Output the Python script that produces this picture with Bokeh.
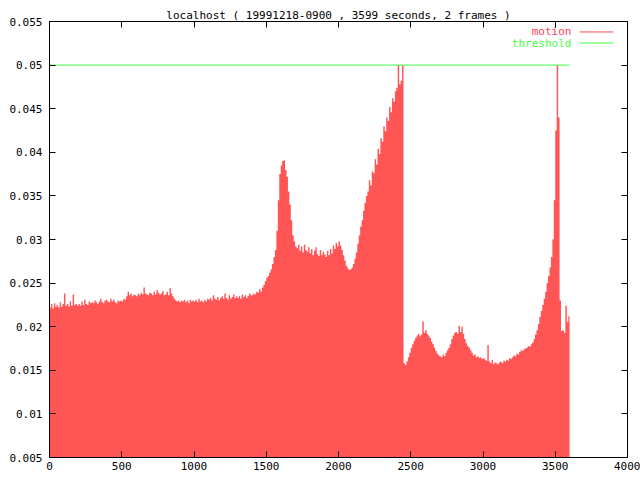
import numpy as np
from bokeh.plotting import figure
from bokeh.models import FixedTicker, LinearAxis, Range1d
from bokeh.core.properties import value
from bokeh.embed import file_html
from bokeh.resources import INLINE

# ---- data (motion level per 10-second bin) ----
step_seconds = 10
motion = [
    0.0222, 0.0226, 0.0221, 0.0227, 0.0223, 0.0225, 0.0222, 0.0228, 0.0223, 0.0226,
    0.0238, 0.0224, 0.0226, 0.0223, 0.0229, 0.0224, 0.0237, 0.0225, 0.0226, 0.0224,
    0.0226, 0.0224, 0.0229, 0.0225, 0.0231, 0.0226, 0.0225, 0.0229, 0.0227, 0.0228,
    0.0227, 0.0230, 0.0228, 0.0226, 0.0229, 0.0232, 0.0228, 0.0227, 0.0230, 0.0231,
    0.0229, 0.0228, 0.0232, 0.0229, 0.0231, 0.0228, 0.0227, 0.0230, 0.0229, 0.0230,
    0.0229, 0.0232, 0.0231, 0.0235, 0.0240, 0.0236, 0.0238, 0.0235, 0.0237, 0.0236,
    0.0235, 0.0238, 0.0236, 0.0239, 0.0237, 0.0245, 0.0238, 0.0237, 0.0236, 0.0239,
    0.0238, 0.0236, 0.0240, 0.0237, 0.0242, 0.0239, 0.0237, 0.0238, 0.0241, 0.0236,
    0.0237, 0.0240, 0.0236, 0.0244, 0.0238, 0.0235, 0.0232, 0.0230, 0.0229, 0.0230,
    0.0228, 0.0230, 0.0229, 0.0231, 0.0228, 0.0230, 0.0227, 0.0231, 0.0229, 0.0230,
    0.0229, 0.0231, 0.0228, 0.0232, 0.0229, 0.0230, 0.0228, 0.0231, 0.0229, 0.0232,
    0.0231, 0.0233, 0.0230, 0.0236, 0.0232, 0.0231, 0.0234, 0.0230, 0.0233, 0.0235,
    0.0232, 0.0238, 0.0233, 0.0231, 0.0236, 0.0232, 0.0234, 0.0237, 0.0233, 0.0235,
    0.0233, 0.0235, 0.0232, 0.0237, 0.0234, 0.0236, 0.0233, 0.0235, 0.0238, 0.0236,
    0.0236, 0.0238, 0.0237, 0.0240, 0.0239, 0.0243, 0.0240, 0.0245, 0.0248, 0.0252,
    0.0256, 0.0258, 0.0262, 0.0266, 0.0272, 0.0280, 0.0288, 0.0310, 0.0345, 0.0375,
    0.0385, 0.0390, 0.0391, 0.0380, 0.0372, 0.0355, 0.0340, 0.0322, 0.0305, 0.0298,
    0.0292, 0.0290, 0.0294, 0.0287, 0.0292, 0.0285, 0.0294, 0.0288, 0.0286, 0.0291,
    0.0284, 0.0289, 0.0282, 0.0287, 0.0291, 0.0283, 0.0281, 0.0288, 0.0282, 0.0286,
    0.0283, 0.0280, 0.0287, 0.0282, 0.0289, 0.0284, 0.0293, 0.0289, 0.0296, 0.0292,
    0.0298, 0.0293, 0.0288, 0.0282, 0.0276, 0.0270, 0.0267, 0.0265, 0.0266, 0.0268,
    0.0272, 0.0278, 0.0285, 0.0295, 0.0305, 0.0315, 0.0322, 0.0333, 0.0342, 0.0350,
    0.0355, 0.0368, 0.0362, 0.0378, 0.0376, 0.0392, 0.0386, 0.0404, 0.0398, 0.0416,
    0.0412, 0.0430, 0.0424, 0.0440, 0.0436, 0.0452, 0.0446, 0.0462, 0.0458, 0.0470,
    0.0474, 0.0500, 0.0478, 0.0482, 0.0500, 0.0158, 0.0156, 0.0160, 0.0165, 0.0170,
    0.0176, 0.0180, 0.0184, 0.0187, 0.0190, 0.0192, 0.0189, 0.0191, 0.0206, 0.0193,
    0.0196, 0.0192, 0.0190, 0.0187, 0.0183, 0.0180, 0.0176, 0.0172, 0.0169, 0.0167,
    0.0166, 0.0165, 0.0168, 0.0166, 0.0170, 0.0173, 0.0176, 0.0180, 0.0186, 0.0190,
    0.0193, 0.0194, 0.0192, 0.0201, 0.0194, 0.0200, 0.0192, 0.0186, 0.0181, 0.0178,
    0.0176, 0.0173, 0.0170, 0.0167, 0.0168, 0.0165, 0.0166, 0.0164, 0.0165, 0.0163,
    0.0164, 0.0162, 0.0161, 0.0179, 0.0160, 0.0158, 0.0162, 0.0157, 0.0159, 0.0158,
    0.0157, 0.0159, 0.0160, 0.0158, 0.0161, 0.0160, 0.0162, 0.0161, 0.0164, 0.0163,
    0.0165, 0.0167, 0.0166, 0.0169, 0.0168, 0.0171, 0.0173, 0.0172, 0.0174, 0.0175,
    0.0176, 0.0178, 0.0177, 0.0180, 0.0182, 0.0186, 0.0191, 0.0196, 0.0203, 0.0211,
    0.0218, 0.0225, 0.0232, 0.0240, 0.0250, 0.0258, 0.0268, 0.0280, 0.0300, 0.0345,
    0.0425, 0.0500, 0.0440, 0.0230, 0.0195, 0.0196, 0.0193, 0.0224, 0.0205, 0.0212,
]
duration_seconds = 3599
threshold_t = [0, 3599]
threshold_v = [0.05, 0.05]

x_ticks = [0, 500, 1000, 1500, 2000, 2500, 3000, 3500, 4000]
y_ticks = [0.005, 0.01, 0.015, 0.02, 0.025, 0.03, 0.035, 0.04, 0.045, 0.05, 0.055]
y_tick_labels = ["0.005", "0.01", "0.015", "0.02", "0.025", "0.03",
                 "0.035", "0.04", "0.045", "0.05", "0.055"]
title_text = "localhost ( 19991218-0900 , 3599 seconds, 2 frames )"
legend_labels = ["motion", "threshold"]

FONT = "DejaVu Sans Mono"
FILL = "#ff5555"
RED = "#ff4455"
GREEN = "#44ff44"

t = list(np.arange(len(motion)) * step_seconds) + [duration_seconds]
v = motion + [motion[-1]]

p = figure(width=640, height=480, output_backend="svg", toolbar_location=None,
           x_range=Range1d(0, 4000), y_range=Range1d(0.005, 0.055),
           min_border_left=49, min_border_right=13, min_border_top=21,
           min_border_bottom=23)
p.title.text = title_text
p.title.text_font = FONT
p.title.text_font_size = "11px"
p.title.text_font_style = "normal"
p.title.text_color = "black"
p.title.align = "center"
p.title.standoff = 0
p.title.offset = 0

p.varea_step(x=t, y1=[0.005] * len(t), y2=v, step_mode="after", fill_color=FILL)
p.line(threshold_t, threshold_v, line_color=GREEN, line_width=1)

# legend (gnuplot style: label then sample line)
lx_text = 3612
lx0, lx1 = 3668, 3903
ly = [0.0538, 0.05253]
p.text(x=[lx_text, lx_text], y=ly, text=legend_labels,
       text_color=[RED, GREEN], text_font=value(FONT), text_font_size="11px",
       text_align="right", text_baseline="middle")
p.segment(x0=[lx0, lx0], y0=ly, x1=[lx1, lx1], y1=ly, line_color=[RED, GREEN], line_width=1)

p.grid.visible = False
p.outline_line_color = "black"
p.background_fill_color = "white"
p.border_fill_color = "white"

for ax in (p.xaxis[0], p.yaxis[0]):
    ax.major_tick_in = 6
    ax.major_tick_out = 0
    ax.minor_tick_line_color = None
    ax.major_label_text_font = FONT
    ax.major_label_text_font_size = "11px"
    ax.major_label_text_color = "black"
    ax.axis_line_color = "black"
    ax.major_tick_line_color = "black"

p.xaxis[0].ticker = FixedTicker(ticks=x_ticks)
p.xaxis[0].major_label_standoff = 4
p.yaxis[0].ticker = FixedTicker(ticks=y_ticks)
p.yaxis[0].major_label_overrides = {k: s for k, s in zip(y_ticks, y_tick_labels)}
p.yaxis[0].major_label_standoff = 7

top_ax = LinearAxis(ticker=FixedTicker(ticks=x_ticks),
                    major_label_overrides={k: "" for k in x_ticks},
                    major_label_standoff=0, major_tick_in=6, major_tick_out=0,
                    minor_tick_line_color=None, axis_line_color="black")
right_ax = LinearAxis(ticker=FixedTicker(ticks=y_ticks),
                      major_label_overrides={k: "" for k in y_ticks},
                      major_label_standoff=0, major_tick_in=6, major_tick_out=0,
                      minor_tick_line_color=None, axis_line_color="black")
p.add_layout(top_ax, "above")
p.add_layout(right_ax, "right")

open("out.html", "w").write(file_html(p, INLINE))
